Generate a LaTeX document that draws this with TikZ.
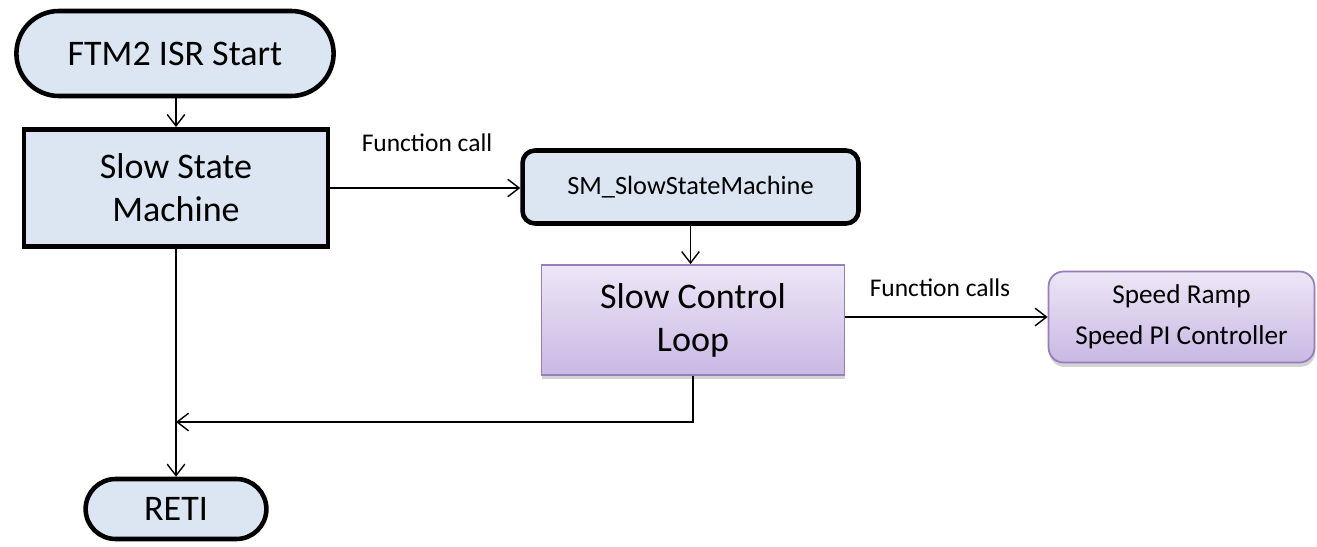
\documentclass[tikz,border=0pt]{standalone}
\usepackage{fontspec}
\setmainfont{Carlito}
\usepackage{tikz}
\usetikzlibrary{calc}
\usetikzlibrary{arrows.meta}
\usetikzlibrary{shapes.misc}
\usetikzlibrary{shadows}

\definecolor{stateBlue}{RGB}{220,230,242}
\definecolor{loopTop}{RGB}{237,230,246}
\definecolor{loopBottom}{RGB}{201,184,228}
\definecolor{loopBorder}{RGB}{150,125,190}

\tikzset{
	bigText/.style={font=\fontsize{20.5}{24.5}\selectfont},
	terminal/.style={rounded rectangle, draw, line width=2.6pt, fill=stateBlue, bigText},
	stateBox/.style={rectangle, draw, line width=2.8pt, fill=stateBlue, align=center, bigText},
	callBox/.style={rectangle, rounded corners=0.25cm, draw, line width=2.6pt, fill=stateBlue, font=\fontsize{15}{18}\selectfont},
	loopBox/.style={rectangle, draw=loopBorder, line width=1pt, top color=loopTop, bottom color=loopBottom, align=center, drop shadow={shadow xshift=0.5pt, shadow yshift=-2.5pt, opacity=0.35}},
	flow/.style={line width=0.8pt, -{Straight Barb[length=6.5pt, width=10pt]}},
	callLabel/.style={font=\fontsize{14.5}{17}\selectfont}
}

\begin{document}
\begin{tikzpicture}[x=0.02cm, y=-0.02cm]

	% page size
	\useasboundingbox (0,0) rectangle (1317,547);

	% isr start and end
	\node [terminal, minimum width=6.58cm, minimum height=1.7cm] (isrStart) at (175,53.5) {FTM2 ISR Start};
	\node [terminal, minimum width=3.85cm, minimum height=1.2cm] (reti) at (176,509) {RETI};

	% slow state machine
	\node [stateBox, minimum width=6.08cm, minimum height=2.34cm] (slowState) at (176,188) {Slow State\\Machine};

	% called state machine function
	\node [callBox, minimum width=6.72cm, minimum height=1.46cm] (smCall) at (690.5,187) {SM\_SlowStateMachine};

	% slow control loop
	\node [loopBox, bigText, minimum width=6.06cm, minimum height=2.2cm] (slowLoop) at (693,320) {Slow Control\\Loop};

	% speed functions
	\node [loopBox, rounded corners=0.3cm, font=\fontsize{15.5}{23.5}\selectfont, minimum width=5.32cm, minimum height=1.82cm] (speedFuncs) at (1181.5,317) {Speed Ramp\\Speed PI Controller};

	% labels
	\node [callLabel] (callLabelOne) at (427,143) {Function call};
	\node [callLabel] (callLabelTwo) at (940,288) {Function calls};

	% return point
	\coordinate (joinPoint) at (176,422);

	% connections
	\draw [flow] (isrStart.south -| slowState.north) -- (slowState.north);
	\draw [flow] (slowState.east) -- (slowState.east -| smCall.west);
	\draw [flow] (smCall.south) -- (smCall.south |- slowLoop.north);
	\draw [flow] (slowLoop.east |- speedFuncs.west) -- (speedFuncs.west);
	\draw [flow] (slowLoop.south) |- (joinPoint);
	\draw [flow] (slowState.south) -- (reti.north);

\end{tikzpicture}
\end{document}
